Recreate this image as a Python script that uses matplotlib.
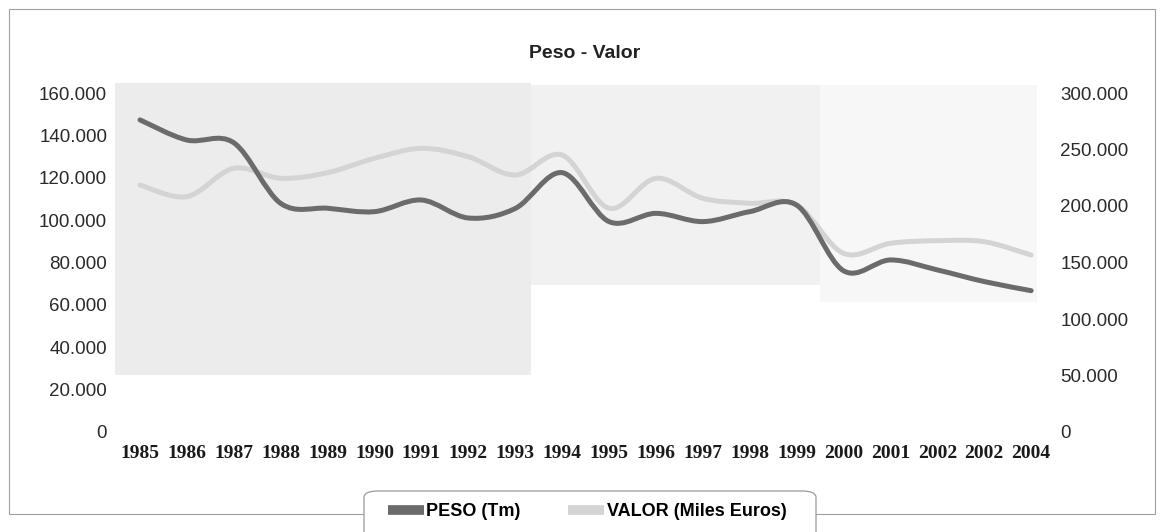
#!/usr/bin/env python3
"""
Peso - Valor: weight (Tm) vs value (thousand euros), 1985-2004, smoothed lines on twin axes.
"""
import numpy as np
import matplotlib
matplotlib.use('Agg')
import matplotlib.pyplot as plt
from matplotlib.path import Path
from matplotlib.patches import PathPatch, Rectangle, FancyBboxPatch
from matplotlib.lines import Line2D
from matplotlib.ticker import FuncFormatter

years = ['1985', '1986', '1987', '1988', '1989', '1990', '1991', '1992', '1993', '1994',
         '1995', '1996', '1997', '1998', '1999', '2000', '2001', '2002', '2002', '2004']
peso = [147300, 137800, 136500, 107900, 105600, 104000, 109500, 101000, 105500, 122400,
        99300, 103200, 99300, 104000, 107100, 76100, 81200, 76500, 71000, 66700]
valor = [218600, 208300, 233400, 224500, 229500, 242200, 251000, 243600, 227400, 245100,
         198000, 224500, 206800, 202400, 200900, 158100, 167000, 169300, 168400, 156600]

C_PESO = '#6b6b6b'
C_VALOR = '#d4d4d4'
W, H = 1164, 532


def smooth_path(xs, ys):
    # Catmull-Rom style cubic bezier through the points (Excel "smoothed line")
    p = np.column_stack([xs, ys]).astype(float)
    n = len(p)
    verts = [p[0]]
    codes = [Path.MOVETO]
    for i in range(n - 1):
        p0 = p[i - 1] if i > 0 else p[i]
        p3 = p[i + 2] if i + 2 < n else p[i + 1]
        c1 = p[i] + (p[i + 1] - p0) / 6.0
        c2 = p[i + 1] - (p3 - p[i]) / 6.0
        verts += [c1, c2, p[i + 1]]
        codes += [Path.CURVE4] * 3
    return Path(verts, codes)


def fx(px):
    return px / W


def fy(py):
    return 1 - py / H


fig = plt.figure(figsize=(W / 100, H / 100), dpi=100)

# outer chart frame
fig.patches.append(Rectangle((fx(9), fy(514)), fx(1155) - fx(9), fy(9) - fy(514),
                             transform=fig.transFigure, fill=False,
                             edgecolor='#a0a0a0', lw=0.8, zorder=-2))

# scanned-page background shading in the plot area
for x0, y0, x1, y1, c in [(115, 83, 531, 375, '#ececec'),
                          (531, 85, 820, 285, '#f1f1f1'),
                          (820, 85, 1037, 302, '#f7f7f7')]:
    fig.patches.append(Rectangle((fx(x0), fy(y1)), fx(x1) - fx(x0), fy(y0) - fy(y1),
                                 transform=fig.transFigure, facecolor=c,
                                 edgecolor='none', zorder=-2))

ax = fig.add_axes([fx(110), fy(432), fx(1056) - fx(110), fy(93) - fy(432)])
ax.set_facecolor('none')
ax2 = ax.twinx()

x = np.arange(len(years))
ax.add_patch(PathPatch(smooth_path(x, peso), facecolor='none', edgecolor=C_PESO,
                       lw=3.6, capstyle='round', zorder=3))
ax2.add_patch(PathPatch(smooth_path(x, valor), facecolor='none', edgecolor=C_VALOR,
                        lw=3.6, capstyle='round', zorder=2))
ax.set_zorder(ax2.get_zorder() + 1)
ax.patch.set_visible(False)
ax2.patch.set_visible(False)

ax.set_xlim(-0.64, 19.53)
ax.set_ylim(0, 160000)
ax2.set_ylim(0, 300000)
ax.set_yticks(np.arange(0, 160001, 20000))
ax2.set_yticks(np.arange(0, 300001, 50000))
thousands = FuncFormatter(lambda v, _: f'{v:,.0f}'.replace(',', '.'))
ax.yaxis.set_major_formatter(thousands)
ax2.yaxis.set_major_formatter(thousands)

ax.set_xticks(x)
ax.set_xticklabels(years, fontfamily='Liberation Serif', fontweight='bold',
                   fontsize=14, color='#1a1a1a')

for a in (ax, ax2):
    for s in a.spines.values():
        s.set_visible(False)
    a.tick_params(length=0)
ax.tick_params(axis='y', pad=2, labelsize=13.5, labelcolor='#2a2a2a')
ax2.tick_params(axis='y', pad=3, labelsize=13.5, labelcolor='#2a2a2a')
ax.tick_params(axis='x', pad=9)
for lab in ax.get_yticklabels() + ax2.get_yticklabels():
    lab.set_fontfamily('Liberation Sans')

fig.text(fx(585), fy(54), 'Peso - Valor', ha='center', va='center',
         fontsize=14, fontweight='bold', fontfamily='Liberation Sans', color='#222222')

# legend box (runs off the bottom edge as in the scan)
fig.patches.append(FancyBboxPatch((fx(364), fy(545)), fx(816) - fx(364), fy(491) - fy(545),
                                  boxstyle='round,pad=0,rounding_size=0.012',
                                  transform=fig.transFigure, facecolor='white',
                                  edgecolor='#9a9a9a', lw=0.9, zorder=2))
handles = [Line2D([0], [0], color=C_PESO, lw=7, solid_capstyle='butt', label='PESO (Tm)'),
           Line2D([0], [0], color=C_VALOR, lw=7, solid_capstyle='butt',
                  label='VALOR (Miles Euros)')]
fig.legend(handles=handles, loc='center', bbox_to_anchor=(fx(587), fy(512)), ncol=2,
           frameon=False, prop={'family': 'Liberation Sans', 'weight': 'bold', 'size': 13},
           handlelength=2.0, handletextpad=0.15, columnspacing=2.6)

fig.savefig('out.png', dpi=100)
